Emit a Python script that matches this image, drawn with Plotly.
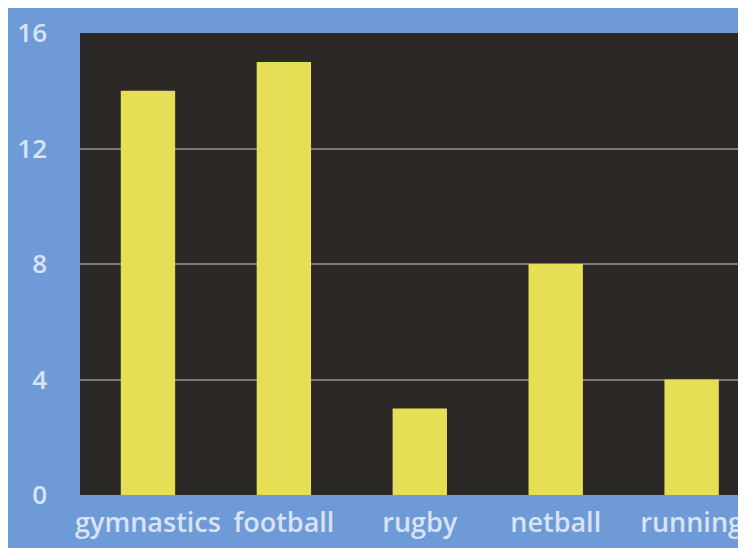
import plotly.graph_objects as go

categories = ["gymnastics", "football", "rugby", "netball", "running"]
values = [14, 15, 3, 8, 4]
y_ticks = [0, 4, 8, 12, 16]

fig = go.Figure(go.Bar(
    x=categories, y=values,
    marker=dict(color="#e6df55", line=dict(width=0)),
    width=0.4,
))

fig.update_layout(
    width=738, height=540,
    margin=dict(l=72, r=0, t=25, b=53),
    paper_bgcolor="#6f9ad8",
    plot_bgcolor="#2b2826",
    showlegend=False,
    font=dict(family="Open Sans", color="#d9e3f4", size=26),
    xaxis=dict(range=[-0.5, 4.4], showgrid=False, ticks="", showline=False,
               ticklabelstandoff=9, tickfont=dict(size=27, weight=600)),
    yaxis=dict(range=[0, 16], tickvals=y_ticks, showgrid=True,
               gridcolor="#7c7b78", gridwidth=2, zeroline=False,
               ticks="", ticklabelstandoff=32, tickfont=dict(size=26, weight=600)),
)

fig.write_html("out.html")
